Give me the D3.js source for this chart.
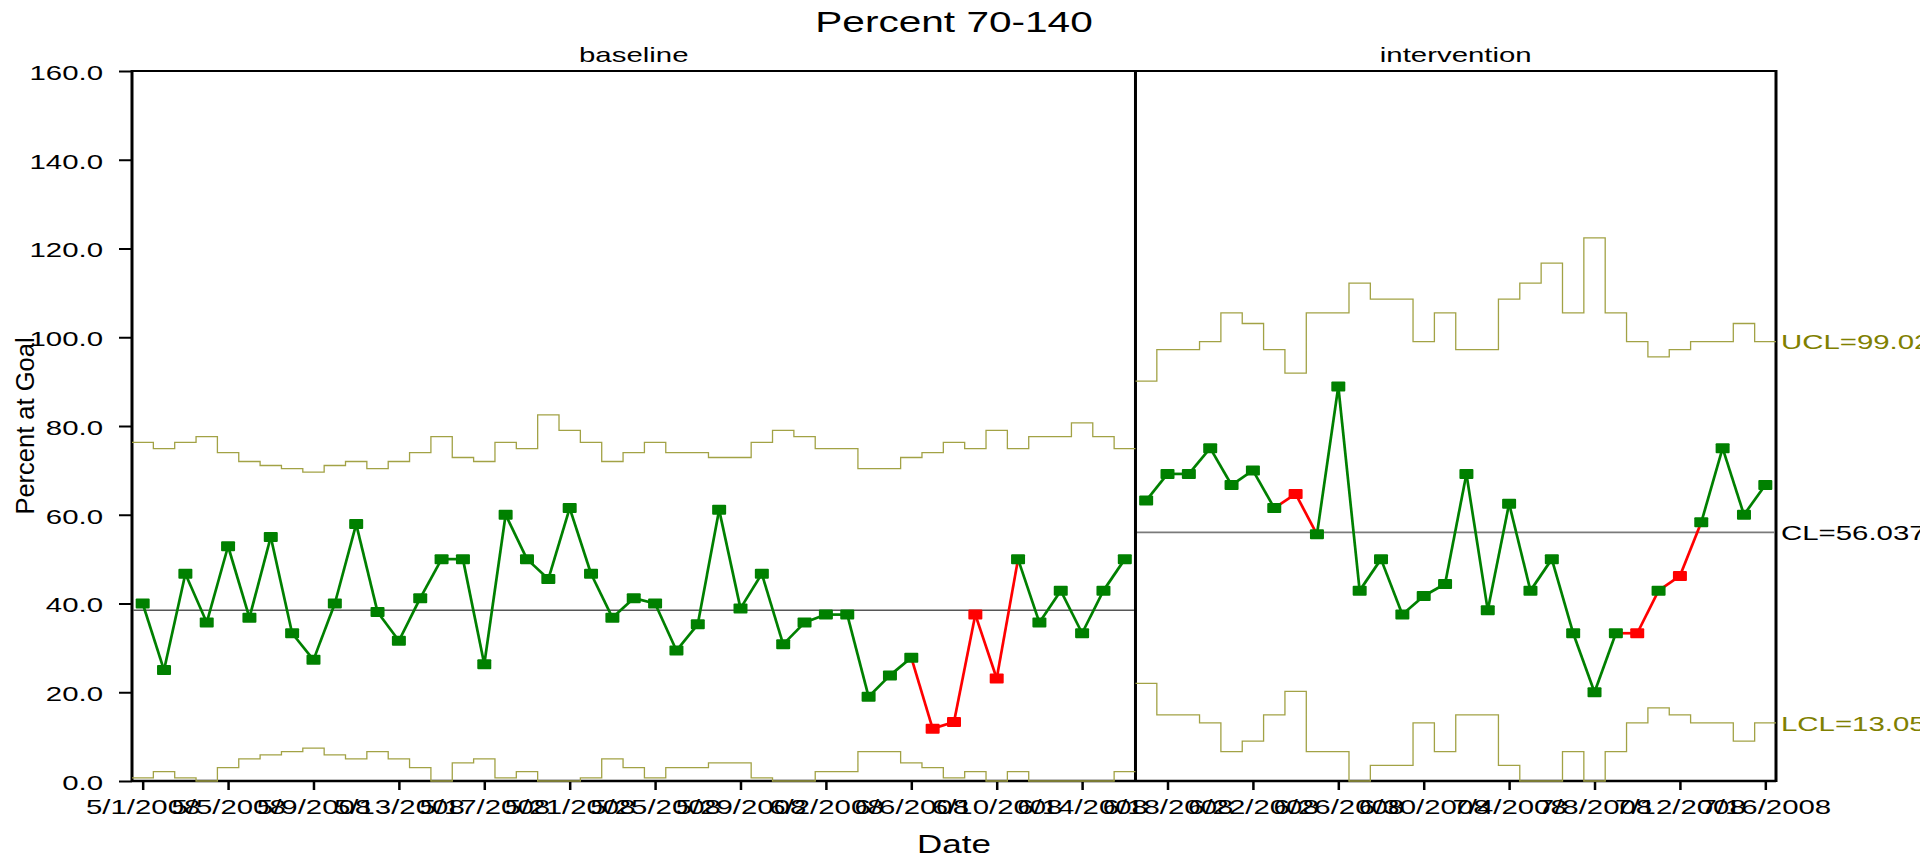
<!DOCTYPE html>
<html>
<head>
<meta charset="utf-8">
<script src="https://cdn.jsdelivr.net/npm/d3@7"></script>
<style>
body { margin: 0; background: #fff; }
svg { display: block; font-family: "Liberation Sans", Arial, sans-serif; }
</style>
</head>
<body>
<svg id="chart" width="1920" height="856"></svg>
<script>
// baseline phase, one point per day from 5/1/2008
var baselineStart = "2008-05-01";
var baselineValues = [40.0, 25.0, 46.7, 35.7, 52.9, 36.8, 55.0, 33.3, 27.3, 40.0,
    57.9, 38.1, 31.6, 41.2, 50.0, 50.0, 26.3, 60.0, 50.0, 45.5,
    61.5, 46.7, 36.8, 41.2, 40.0, 29.4, 35.3, 61.1, 38.9, 46.7,
    30.8, 35.7, 37.5, 37.5, 19.0, 23.8, 27.8, 11.8, 13.3, 37.5,
    23.1, 50.0, 35.7, 42.9, 33.3, 42.9, 50.0];
var baselineUCL = [76.3, 74.9, 76.3, 77.6, 74.0, 72.0, 71.1, 70.4, 69.6, 71.1,
    72.0, 70.4, 72.0, 74.0, 77.6, 72.9, 72.0, 76.3, 74.9, 82.5,
    79.0, 76.3, 72.0, 74.0, 76.3, 74.0, 74.0, 72.9, 72.9, 76.3,
    79.0, 77.6, 74.9, 74.9, 70.4, 70.4, 72.9, 74.0, 76.3, 74.9,
    79.0, 74.9, 77.6, 77.6, 80.7, 77.6, 74.9];
var baselineLCL = [0.7, 2.1, 0.7, 0, 3.0, 5.0, 5.9, 6.6, 7.4, 5.9,
    5.0, 6.6, 5.0, 3.0, 0, 4.1, 5.0, 0.7, 2.1, 0,
    0, 0.7, 5.0, 3.0, 0.7, 3.0, 3.0, 4.1, 4.1, 0.7,
    0, 0, 2.1, 2.1, 6.6, 6.6, 4.1, 3.0, 0.7, 2.1,
    0, 2.1, 0, 0, 0, 0, 2.1];
var baselineCL = 38.5;
var baselineFlags = [37, 38, 39, 40];

// intervention phase, from 6/17/2008
var interventionStart = "2008-06-17";
var interventionValues = [63.2, 69.2, 69.2, 75.0, 66.7, 70.0, 61.5, 64.7, 55.6, 88.9,
    42.9, 50.0, 37.5, 41.7, 44.4, 69.2, 38.5, 62.5, 42.9, 50.0,
    33.3, 20.0, 33.3, 33.3, 42.9, 46.2, 58.3, 75.0, 60.0, 66.7];
var interventionUCL = [90.1, 97.2, 97.2, 99.0, 105.5, 103.1, 97.2, 91.9, 105.5, 105.5,
    112.2, 108.6, 108.6, 99.0, 105.5, 97.2, 97.2, 108.6, 112.2, 116.7,
    105.5, 122.4, 105.5, 99.0, 95.6, 97.2, 99.0, 99.0, 103.1, 99.0];
var interventionLCL = [22.0, 14.9, 14.9, 13.1, 6.6, 9.0, 14.9, 20.2, 6.6, 6.6,
    0, 3.5, 3.5, 13.1, 6.6, 14.9, 14.9, 3.5, 0, 0,
    6.6, 0, 6.6, 13.1, 16.5, 14.9, 13.1, 13.1, 9.0, 13.1];
var interventionCL = 56.037;
var interventionFlags = [7, 23, 25];

var limitLabels = ["UCL=99.022", "CL=56.037", "LCL=13.052"];
var limitLabelValues = [99.022, 56.037, 13.052];

var tickLabels = ["5/1/2008", "5/5/2008", "5/9/2008", "5/13/2008", "5/17/2008",
    "5/21/2008", "5/25/2008", "5/29/2008", "6/2/2008", "6/6/2008",
    "6/10/2008", "6/14/2008", "6/18/2008", "6/22/2008", "6/26/2008",
    "6/30/2008", "7/4/2008", "7/8/2008", "7/12/2008", "7/16/2008"];
var yTicks = [0, 20, 40, 60, 80, 100, 120, 140, 160];

var SX = 1.4; // the picture is stretched sideways, text too

var svg = d3.select("#chart");
var margin = {left: 132, right: 1776, top: 71, bottom: 781};

var parseDay = d3.timeParse("%Y-%m-%d");
var parseTick = d3.timeParse("%m/%d/%Y");
var fmtTick = d3.timeFormat("%-m/%-d/%Y");

function makePhase(start, values, ucl, lcl, cl, flags) {
    var s = parseDay(start);
    return {
        cl: cl,
        points: values.map(function(v, i) {
            return {date: d3.timeDay.offset(s, i), value: v, ucl: ucl[i], lcl: lcl[i], red: flags.indexOf(i) >= 0};
        })
    };
}

var phases = [
    makePhase(baselineStart, baselineValues, baselineUCL, baselineLCL, baselineCL, baselineFlags),
    makePhase(interventionStart, interventionValues, interventionUCL, interventionLCL, interventionCL, interventionFlags)
];

var firstDay = phases[0].points[0].date;
var lastPts = phases[1].points;
var lastDay = lastPts[lastPts.length - 1].date;

var x = d3.scaleTime()
    .domain([d3.timeHour.offset(firstDay, -12), d3.timeHour.offset(lastDay, 12)])
    .range([margin.left, margin.right]);
var y = d3.scaleLinear().domain([0, 160]).range([margin.bottom, margin.top]);

function stretchText(x0, y0, str, size, anchor) {
    return svg.append("text")
        .attr("transform", "translate(" + x0 + "," + y0 + ") scale(" + SX + ",1)")
        .attr("font-size", size)
        .attr("text-anchor", anchor)
        .text(str);
}

// axes
svg.append("g")
    .attr("transform", "translate(" + margin.left + ",0)")
    .call(d3.axisLeft(y).tickValues(yTicks).tickFormat(d3.format(".1f")).tickSize(13))
    .attr("font-family", null).attr("font-size", null)
    .call(function(g) { g.select(".domain").remove(); })
    .call(function(g) { g.selectAll(".tick line").attr("stroke-width", 2); })
    .call(function(g) {
        g.selectAll(".tick text")
            .attr("x", null).attr("dy", "0.4em")
            .attr("transform", "translate(-29,0) scale(" + SX + ",1)")
            .attr("font-size", 21).attr("fill", "#000");
    });

svg.append("g")
    .attr("transform", "translate(0," + margin.bottom + ")")
    .call(d3.axisBottom(x).tickValues(tickLabels.map(parseTick)).tickFormat(fmtTick).tickSize(9))
    .attr("font-family", null).attr("font-size", null)
    .call(function(g) { g.select(".domain").remove(); })
    .call(function(g) { g.selectAll(".tick line").attr("stroke-width", 2.5); })
    .call(function(g) {
        g.selectAll(".tick text")
            .attr("y", null).attr("dy", null)
            .attr("transform", "translate(0,33) scale(" + SX + ",1)")
            .attr("font-size", 21).attr("fill", "#000");
    });

// frame and panel divider
var divX = x(d3.timeHour.offset(phases[0].points[phases[0].points.length - 1].date, 12));
svg.append("line").attr("x1", margin.left).attr("x2", margin.right).attr("y1", margin.top).attr("y2", margin.top)
    .attr("stroke", "#000").attr("stroke-width", 2);
svg.append("line").attr("x1", margin.left).attr("x2", margin.right).attr("y1", margin.bottom).attr("y2", margin.bottom)
    .attr("stroke", "#000").attr("stroke-width", 2.5);
[margin.left, divX, margin.right].forEach(function(px) {
    svg.append("line").attr("x1", px).attr("x2", px).attr("y1", margin.top - 1).attr("y2", margin.bottom + 1)
        .attr("stroke", "#000").attr("stroke-width", 3);
});

// centre lines
phases.forEach(function(p, k) {
    var pts = p.points;
    svg.append("line")
        .attr("x1", x(d3.timeHour.offset(pts[0].date, -12)) + 1.5)
        .attr("x2", x(d3.timeHour.offset(pts[pts.length - 1].date, 12)) - 1.5)
        .attr("y1", y(p.cl)).attr("y2", y(p.cl))
        .attr("stroke", k == 0 ? "#000" : "#7a7a7a")
        .attr("stroke-width", k == 0 ? 1 : 1.6);
});

// control limits as steps
var stepLine = d3.line().curve(d3.curveStepAfter);
phases.forEach(function(p) {
    ["ucl", "lcl"].forEach(function(key) {
        var pts = p.points.map(function(d) {
            return [x(d3.timeHour.offset(d.date, -12)), y(d[key])];
        });
        var last = p.points[p.points.length - 1];
        pts.push([x(d3.timeHour.offset(last.date, 12)), y(last[key])]);
        svg.append("path")
            .attr("d", stepLine(pts))
            .attr("fill", "none")
            .attr("stroke", "#a2a245")
            .attr("stroke-width", 1.3);
    });
});

// data lines and markers
var seg = d3.line().x(function(d) { return x(d.date); }).y(function(d) { return y(d.value); });
phases.forEach(function(p) {
    var pts = p.points;
    for (var i = 0; i < pts.length - 1; i++) {
        var red = pts[i].red || pts[i + 1].red;
        svg.append("path")
            .attr("d", seg([pts[i], pts[i + 1]]))
            .attr("fill", "none")
            .attr("stroke", red ? "#ff0000" : "#008000")
            .attr("stroke-width", 2.7);
    }
    svg.append("g")
        .selectAll("rect")
        .data(pts)
        .join("rect")
        .attr("x", function(d) { return x(d.date) - 7; })
        .attr("y", function(d) { return y(d.value) - 5; })
        .attr("width", 14)
        .attr("height", 10)
        .attr("rx", 1)
        .style("fill", function(d) { return d.red ? "#ff0000" : "#008000"; });
});

// labels
limitLabels.forEach(function(t, i) {
    stretchText(margin.right + 5, y(limitLabelValues[i]), t, 21, "start")
        .attr("dy", "0.36em")
        .attr("fill", i == 1 ? "#000" : "#808000");
});

stretchText((margin.left + margin.right) / 2, 32, "Percent 70-140", 29, "middle");
stretchText((margin.left + divX) / 2, 61.5, "baseline", 21, "middle");
stretchText((divX + margin.right) / 2, 61.5, "intervention", 21, "middle");
stretchText((margin.left + margin.right) / 2, 853, "Date", 25, "middle");

svg.append("text")
    .attr("transform", "translate(34," + ((margin.top + margin.bottom) / 2) + ") rotate(-90)")
    .attr("font-size", 25.5)
    .attr("text-anchor", "middle")
    .text("Percent at Goal");
</script>
</body>
</html>
